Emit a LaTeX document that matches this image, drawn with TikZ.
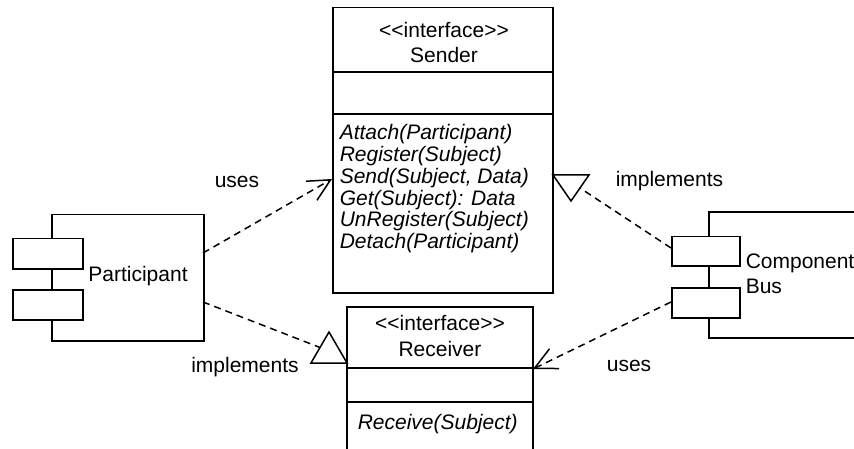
\documentclass[tikz,border=0pt]{standalone}
\usepackage{fontspec}
\setmainfont{Liberation Sans}
\usetikzlibrary{arrows.meta,calc}

\begin{document}
\begin{tikzpicture}[x=1pt,y=-1pt,
  line width=1.5pt,
  txt/.style={font=\fontsize{21}{25}\selectfont, inner sep=0pt},
  meth/.style={txt, font=\fontsize{21}{25}\selectfont\itshape, anchor=base west},
  part/.style={draw, fill=white, line width=1.5pt, inner sep=0pt, anchor=north west},
  dep/.style={line width=1.5pt, dash pattern=on 7pt off 5pt},
  usesarrow/.style={dep, -{Straight Barb[length=22pt, width=22pt, line width=1.5pt]}},
  realize/.style={line width=1.5pt, fill=white}]

\useasboundingbox (0,0) rectangle (854,449);

% ---------- interface Sender ----------
\node[part, minimum width=220pt, minimum height=285pt] (sender) at (332,7) {};
\draw (332,72) -- (552,72);
\draw (332,114) -- (552,114);
\node[txt, anchor=base] (sstereo) at (444,38) {<{}<interface>{}>};
\node[txt, anchor=base] (sname) at (444,63) {Sender};
\foreach \t [count=\i] in {Attach(Participant), Register(Subject), {Send(Subject, Data)},
    Get(Subject): Data, UnRegister(Subject), Detach(Participant)}
  \node[meth] (m\i) at (339,{140+21.7*(\i-1)}) {\t};

% ---------- interface Receiver (continues below the page) ----------
\draw (347,449) -- (347,307) -- (533,307) -- (533,449);
\draw (347,368) -- (533,368);
\draw (347,402) -- (533,402);
\node[txt, anchor=base] (rstereo) at (440,330) {<{}<interface>{}>};
\node[txt, anchor=base] (rname) at (440,356) {Receiver};
\node[meth] (rm1) at (357,429) {Receive(Subject)};

% ---------- component Participant ----------
\node[part, minimum width=152pt, minimum height=126pt] (participant) at (51,214) {};
\node[part, minimum width=70pt, minimum height=30pt] (pport1) at (12,238) {};
\node[part, minimum width=70pt, minimum height=30pt] (pport2) at (12,289) {};
\node[txt, anchor=base] (plabel) at (138,281) {Participant};

% ---------- component Bus (continues past the right edge) ----------
\draw (854,212) -- (709,212) -- (709,338) -- (854,338);
\node[part, minimum width=68pt, minimum height=29pt] (bport1) at (671,236) {};
\node[part, minimum width=68pt, minimum height=30pt] (bport2) at (671,287) {};
\node[txt, anchor=base west] (blabel1) at (745,268) {Component};
\node[txt, anchor=base west] (blabel2) at (745,293) {Bus};

% ---------- realization triangles ----------
\draw[realize] (311,363) coordinate (ltl) -- (329,332) coordinate (lta)
  -- (347,363) coordinate (ltr) -- cycle;
\draw[realize] (553,175) coordinate (rtl) -- (589,175) coordinate (rtr)
  -- (571,201) coordinate (rta) -- cycle;
\coordinate (ltin) at ($(ltl)!0.5!(lta)$);
\coordinate (rtin) at ($(rtr)!0.5!(rta)$);

% ---------- connector end points ----------
\coordinate (puses) at (203,253);
\coordinate (pimpl) at (203,302);
\coordinate (suses) at (332,179);
\coordinate (bimpl) at (671,248);
\coordinate (buses) at (671,302);
\coordinate (ruses) at (533,369);

% ---------- connectors ----------
\draw[usesarrow] (puses) -- (suses);
\draw[dep] (pimpl) -- (ltin);
\draw[dep] (bimpl) -- (rtin);
\draw[usesarrow] (buses) -- (ruses);

% ---------- connector labels ----------
\node[txt, anchor=base] (luses) at (237,188) {uses};
\node[txt, anchor=base] (limpl) at (245,372) {implements};
\node[txt, anchor=base west] (rimpl) at (615,187) {implements};
\node[txt, anchor=base] (ruseslbl) at (629,371) {uses};
\end{tikzpicture}
\end{document}
